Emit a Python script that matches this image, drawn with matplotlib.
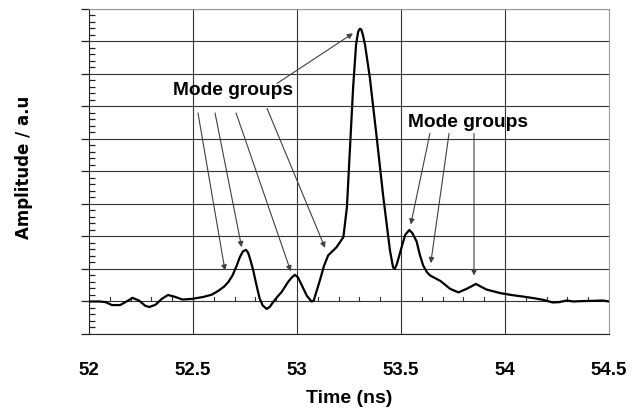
import numpy as np
import matplotlib
matplotlib.use("Agg")
import matplotlib.pyplot as plt
from matplotlib.ticker import MultipleLocator

zeit = [52.00, 52.05, 52.08, 52.11, 52.15, 52.18, 52.21, 52.24, 52.27, 52.29,
        52.32, 52.35, 52.38, 52.41, 52.45, 52.495, 52.55, 52.59, 52.62, 52.65,
        52.67, 52.69, 52.71, 52.725, 52.74, 52.755, 52.765, 52.775, 52.79, 52.80,
        52.82, 52.835, 52.854, 52.87, 52.885, 52.905, 52.926, 52.957, 52.975, 52.99,
        53.005, 53.02, 53.047, 53.07, 53.08, 53.11, 53.13, 53.15, 53.19, 53.223,
        53.24, 53.255, 53.27, 53.284, 53.294, 53.302, 53.309, 53.317, 53.327, 53.35,
        53.383, 53.415, 53.447, 53.462, 53.47, 53.48, 53.503, 53.52, 53.54, 53.555,
        53.575, 53.59, 53.607, 53.625, 53.64, 53.69, 53.736, 53.776, 53.816, 53.86,
        53.91, 53.976, 54.03, 54.088, 54.14, 54.184, 54.23, 54.26, 54.296, 54.33,
        54.36, 54.42, 54.47, 54.5]
amplitude = [0.0, 0.0, -0.02, -0.11, -0.11, 0.0, 0.11, 0.03, -0.13, -0.17,
             -0.1, 0.08, 0.2, 0.15, 0.06, 0.08, 0.14, 0.21, 0.32, 0.46,
             0.6, 0.8, 1.1, 1.36, 1.54, 1.59, 1.5, 1.3, 0.95, 0.65,
             0.1, -0.12, -0.23, -0.16, -0.02, 0.14, 0.29, 0.6, 0.74, 0.82,
             0.74, 0.54, 0.18, 0.0, 0.02, 0.65, 1.1, 1.42, 1.67, 1.98,
             2.9, 4.75, 6.6, 7.9, 8.3, 8.39, 8.37, 8.2, 7.9, 6.9,
             5.06, 3.21, 1.57, 1.05, 1.0, 1.15, 1.67, 2.05, 2.2, 2.1,
             1.85, 1.45, 1.1, 0.9, 0.8, 0.63, 0.39, 0.28, 0.39, 0.54,
             0.37, 0.26, 0.2, 0.15, 0.1, 0.05, -0.03, -0.02, 0.03, 0.0,
             0.01, 0.02, 0.03, 0.0]

x_ticks = [52, 52.5, 53, 53.5, 54, 54.5]
x_labels = ["52", "52.5", "53", "53.5", "54", "54.5"]

# Beschriftungen "Mode groups" und Pfeile (schwanz -> spitze)
label_text = "Mode groups"
label_pos = [(52.692, 6.49), (53.822, 5.51)]
pfeile_links = [((52.524, 5.80), (52.654, 0.95)),
                ((52.606, 5.80), (52.734, 1.67)),
                ((52.707, 5.80), (52.970, 0.93)),
                ((52.856, 5.94), (53.135, 1.65)),
                ((52.904, 6.71), (53.269, 8.25))]
pfeile_rechts = [((53.639, 5.17), (53.547, 2.37)),
                 ((53.731, 5.17), (53.643, 1.18)),
                 ((53.851, 5.17), (53.851, 0.80))]

fig = plt.figure(figsize=(6.42, 4.08), dpi=100)
ax = fig.add_axes([0.1386, 0.1814, 0.81, 0.7966])

ax.set_xlim(52, 54.5)
ax.set_ylim(-1, 9)

# gitter
for y in range(-1, 10):
    ax.axhline(y, color="#333333", lw=0.8, zorder=1)
for x in x_ticks[1:-1]:
    ax.axvline(x, color="#333333", lw=0.8, zorder=1)
# kleine striche auf der nulllinie
for x in np.arange(52.1, 54.45, 0.1):
    ax.plot([x, x], [0, 0.13], color="#333333", lw=0.8, zorder=1)

ax.plot(zeit, amplitude, color="black", lw=1.6, zorder=3)

for (t0, a0), (t1, a1) in pfeile_links + pfeile_rechts:
    ax.annotate("", xy=(t1, a1), xytext=(t0, a0),
                arrowprops=dict(arrowstyle="-|>", color="#404040", lw=0.8,
                                mutation_scale=8, shrinkA=0, shrinkB=0), zorder=4)
for tx, ty in label_pos:
    ax.text(tx, ty, label_text, ha="center", va="center", fontsize=13.8,
            fontweight="bold", family="Liberation Sans", zorder=5)

ax.spines["top"].set_color("#999999")
ax.spines["right"].set_color("#999999")
ax.spines["left"].set_color("#222222")
ax.spines["bottom"].set_color("#222222")

ax.set_xticks(x_ticks)
ax.set_xticklabels(x_labels, family="Liberation Sans", fontweight="bold", fontsize=13.5)
ax.tick_params(axis="x", length=0, pad=20)
ax.yaxis.set_major_locator(MultipleLocator(1))
ax.yaxis.set_minor_locator(MultipleLocator(0.2))
ax.tick_params(axis="y", which="major", direction="out", length=6, width=0.9,
               labelleft=False, color="#222222")
ax.tick_params(axis="y", which="minor", direction="in", length=4, width=0.9,
               color="#222222")

ax.set_xlabel("Time (ns)", family="Liberation Sans", fontweight="bold",
              fontsize=14, labelpad=8)
ax.set_ylabel("Amplitude / a.u", fontweight="bold", fontsize=12)
ax.yaxis.set_label_coords(-0.108, 0.514)

fig.savefig("out.png", dpi=100)
